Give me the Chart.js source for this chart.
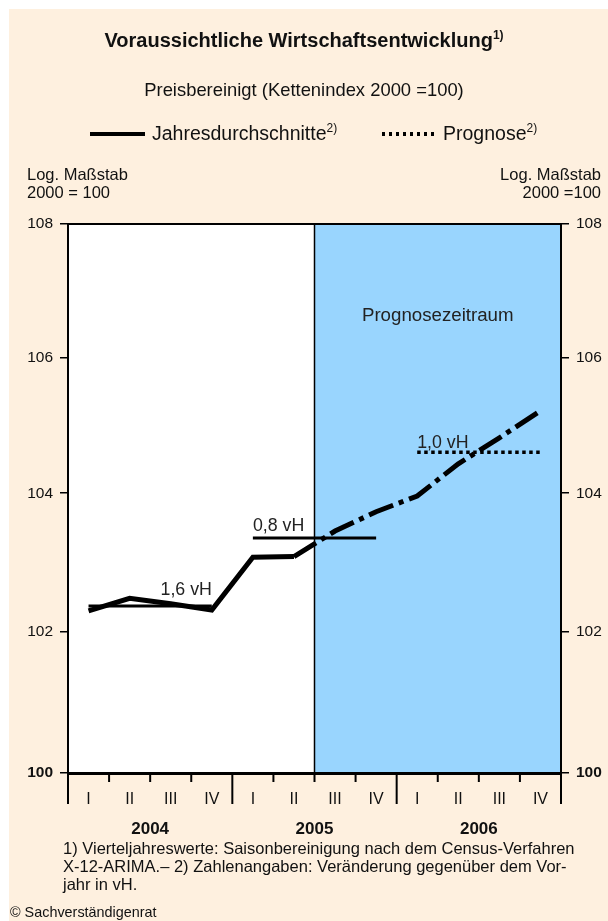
<!DOCTYPE html>
<html>
<head>
<meta charset="utf-8">
<script src="https://cdn.jsdelivr.net/npm/chart.js@4/dist/chart.umd.min.js"></script>
<style>
  body { margin: 0; background: #fff; font-family: "Liberation Sans", Arial, sans-serif; color: #111; }
  #page { position: relative; width: 608px; height: 921px; overflow: hidden; }
  #bg { position: absolute; left: 9px; top: 9px; right: 0; bottom: 0; background: #fef0df; }
  canvas { position: absolute; left: 0; top: 0; }
  .t { position: absolute; white-space: nowrap; }
  .sup { font-size: 12px; position: relative; top: -8px; }
  .solid { position: absolute; height: 4px; background: #000; }
  .dots { position: absolute; height: 4px; background: repeating-linear-gradient(to right, #000 0 3.5px, transparent 3.5px 7px); }
</style>
</head>
<body>
<div id="page">
  <div id="bg"></div>
  <canvas id="chart" width="608" height="921"></canvas>

  <div class="t" style="left:0;width:608px;text-align:center;top:28px;font-size:20px;line-height:24px;font-weight:bold;">Voraussichtliche Wirtschaftsentwicklung<span class="sup">1)</span></div>
  <div class="t" style="left:0;width:608px;text-align:center;top:79px;font-size:18.4px;line-height:22px;">Preisbereinigt (Kettenindex 2000 =100)</div>

  <div class="solid" style="left:90px;top:132px;width:55px;"></div>
  <div class="t" style="left:152px;top:121px;font-size:19.5px;line-height:24px;">Jahresdurchschnitte<span class="sup">2)</span></div>
  <div class="dots" style="left:382px;top:132px;width:56px;"></div>
  <div class="t" style="left:443px;top:121px;font-size:19.5px;line-height:24px;">Prognose<span class="sup">2)</span></div>

  <div class="t" style="left:27px;top:165px;font-size:16.5px;line-height:18px;">Log. Maßstab<br>2000 = 100</div>
  <div class="t" style="right:7px;top:165px;font-size:16.5px;line-height:18px;text-align:right;">Log. Maßstab<br>2000 =100</div>

  <div class="t" style="left:63px;top:839px;font-size:16.5px;line-height:18px;">1) Vierteljahreswerte: Saisonbereinigung nach dem Census-Verfahren<br>X-12-ARIMA.– 2) Zahlenangaben: Veränderung gegenüber dem Vor-<br>jahr in vH.</div>
  <div class="t" style="left:10px;top:904px;font-size:14.4px;line-height:16px;">© Sachverständigenrat</div>
</div>

<script>
// quarters and years along the x axis
const quarters = ['I', 'II', 'III', 'IV', 'I', 'II', 'III', 'IV', 'I', 'II', 'III', 'IV'];
const years = ['2004', '2005', '2006'];

// quarterly values (chain index 2000 = 100)
const quarterly = [102.30, 102.48, 102.40, 102.31, 103.07, 103.08, 103.45, 103.73, 103.96, 104.43, 104.81, 105.21];

// annual averages and their growth labels
const annualAvg = [102.37, 103.35, 104.60];
const avgLabels = ['1,6 vH', '0,8 vH', '1,0 vH'];

const yTicks = [100, 102, 104, 106, 108];
const forecastFrom = 6;   // first forecast quarter (2005 III)
const dashFrom = 5;       // line becomes dash-dot after 2005 II

const FONT = '"Liberation Sans", Arial, sans-serif';
const BLUE = '#99d5fe';

// one dataset per year for the horizontal averages
const avgSets = annualAvg.map((v, i) => ({
  data: quarters.map((q, k) => Math.floor(k / 4) === i ? v : null),
  borderColor: '#000',
  borderWidth: i === 2 ? 3.5 : 3,
  borderDash: i === 2 ? [3.5, 3.5] : [],
  pointRadius: 0,
  spanGaps: false,
  order: 2
}));

const decor = {
  id: 'decor',
  beforeDraw(chart) {
    const { ctx, chartArea: a, scales: { x } } = chart;
    const split = (x.getPixelForValue(forecastFrom - 1) + x.getPixelForValue(forecastFrom)) / 2;
    ctx.save();
    ctx.fillStyle = '#fff';
    ctx.fillRect(a.left, a.top, split - a.left, a.bottom - a.top);
    ctx.fillStyle = BLUE;
    ctx.fillRect(split, a.top, a.right - split, a.bottom - a.top);
    ctx.restore();
  },
  beforeDatasetsDraw(chart) {
    const { ctx, chartArea: a, scales: { x } } = chart;
    const split = (x.getPixelForValue(forecastFrom - 1) + x.getPixelForValue(forecastFrom)) / 2;
    ctx.save();
    ctx.strokeStyle = '#000';
    ctx.lineWidth = 1.5;
    ctx.beginPath();
    ctx.moveTo(split, a.top);
    ctx.lineTo(split, a.bottom);
    ctx.stroke();
    // top frame
    ctx.lineWidth = 2;
    ctx.beginPath();
    ctx.moveTo(a.left - 1, a.top);
    ctx.lineTo(a.right + 1, a.top);
    ctx.stroke();

    // growth labels above the averages
    const y = chart.scales.y;
    ctx.fillStyle = '#222';
    ctx.font = '17.8px ' + FONT;
    ctx.textBaseline = 'bottom';
    ctx.textAlign = 'left';
    const shift = [72, 0, 0];
    const lift = [7, 3, 0];
    annualAvg.forEach((v, i) => {
      const px = x.getPixelForValue(i * 4) + shift[i];
      ctx.fillText(avgLabels[i], px, y.getPixelForValue(v) - lift[i]);
    });

    ctx.textAlign = 'center';
    ctx.textBaseline = 'middle';
    ctx.font = '18.7px ' + FONT;
    ctx.fillText('Prognosezeitraum', (split + a.right) / 2, a.top + 92);
    ctx.restore();
  },
  afterDraw(chart) {
    const { ctx, chartArea: a, scales: { x } } = chart;
    ctx.save();
    ctx.strokeStyle = '#000';
    ctx.lineWidth = 2;
    for (let k = 0; k <= quarters.length; k++) {
      let px;
      if (k === 0) px = a.left;
      else if (k === quarters.length) px = a.right;
      else px = (x.getPixelForValue(k - 1) + x.getPixelForValue(k)) / 2;
      const len = k % 4 === 0 ? 31 : 9;
      ctx.beginPath();
      ctx.moveTo(px, a.bottom);
      ctx.lineTo(px, a.bottom + len);
      ctx.stroke();
    }
    ctx.restore();
  }
};

const yAxis = (pos, width) => ({
  type: 'logarithmic',
  position: pos,
  min: 100,
  max: 108,
  afterBuildTicks: s => { s.ticks = yTicks.map(v => ({ value: v })); },
  afterFit: s => { s.width = width; },
  grid: { drawOnChartArea: false, tickLength: 8, color: '#000', lineWidth: 1.5 },
  border: { display: true, color: '#000', width: 2 },
  ticks: {
    padding: 7,
    color: '#111',
    callback: v => String(v),
    font: c => ({ family: FONT, size: 15.5, weight: c.tick && c.tick.value === 100 ? 'bold' : 'normal' })
  }
});

new Chart(document.getElementById('chart'), {
  type: 'line',
  data: {
    labels: quarters,
    datasets: [
      {
        data: quarterly,
        borderColor: '#000',
        borderWidth: 5,
        pointRadius: 0,
        tension: 0,
        order: 1,
        segment: {
          borderDash: c => c.p0DataIndex >= dashFrom ? [26, 6, 5, 6] : undefined
        }
      },
      ...avgSets
    ]
  },
  options: {
    responsive: false,
    animation: false,
    layout: { padding: { top: 224, left: 0, right: 0, bottom: 0 } },
    plugins: { legend: { display: false }, tooltip: { enabled: false } },
    scales: {
      x: {
        type: 'category',
        labels: quarters,
        offset: true,
        weight: 0,
        grid: { display: false },
        border: { display: true, color: '#000', width: 3 },
        afterFit: s => { s.height = 35; },
        ticks: { padding: 9, color: '#111', autoSkip: false, maxRotation: 0, font: { family: FONT, size: 16 } }
      },
      x2: {
        type: 'category',
        labels: years,
        offset: true,
        position: 'bottom',
        weight: 1,
        grid: { display: false },
        border: { display: false },
        afterFit: s => { s.height = 113; },
        ticks: { padding: 3, color: '#111', maxRotation: 0, font: { family: FONT, size: 17, weight: 'bold' } }
      },
      y: yAxis('left', 68),
      y2: yAxis('right', 47)
    }
  },
  plugins: [decor]
});
</script>
</body>
</html>
